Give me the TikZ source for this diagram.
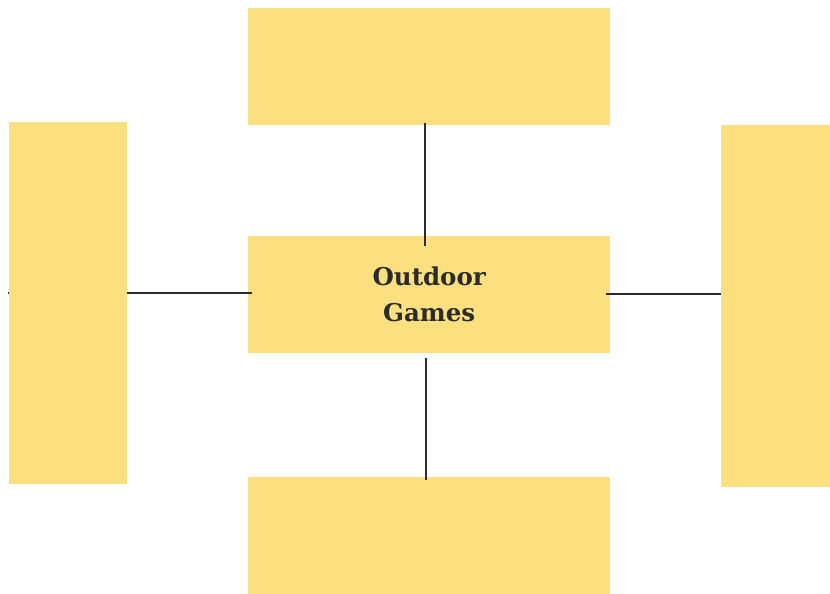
\documentclass[tikz,border=0pt]{standalone}
\usepackage{fontspec}
\setmainfont{DejaVu Serif}
\definecolor{boxyellow}{HTML}{FCE07F}
\definecolor{inkdark}{HTML}{2B2B2B}
\tikzset{
  card/.style={fill=boxyellow, draw=none, inner sep=0pt, anchor=north west},
  link/.style={draw=inkdark, line width=2.9pt},
}
\begin{document}
\begin{tikzpicture}[x=1pt,y=-1pt]
\useasboundingbox (0,0) rectangle (830,594);
\node[card, minimum width=362pt, minimum height=117pt] (top) at (248,8) {};
\node[card, minimum width=362pt, minimum height=117pt, align=center, text=inkdark,
      font=\bfseries\fontsize{24.5}{37}\selectfont] (center) at (248,236) {\raisebox{-1pt}{Outdoor}\\Games};
\node[card, minimum width=109pt, minimum height=362pt] (right) at (721,125) {};
\node[card, minimum width=362pt, minimum height=117pt] (bottom) at (248,477) {};
\coordinate (lend) at (8,293);
\draw[link] (lend) -- ([xshift=4pt]center.west |- lend);
\draw[link] ([xshift=-4pt]center.east |- 0,294) -- (right.west |- 0,294);
\draw[link] ([yshift=2pt]top.south -| 425,0) -- ([yshift=-10pt]center.north -| 425,0);
\draw[link] ([yshift=-5pt]center.south -| 426,0) -- ([yshift=-3pt]bottom.north -| 426,0);
\node[card, minimum width=118pt, minimum height=362pt] (left) at (9,122) {};
\end{tikzpicture}
\end{document}
